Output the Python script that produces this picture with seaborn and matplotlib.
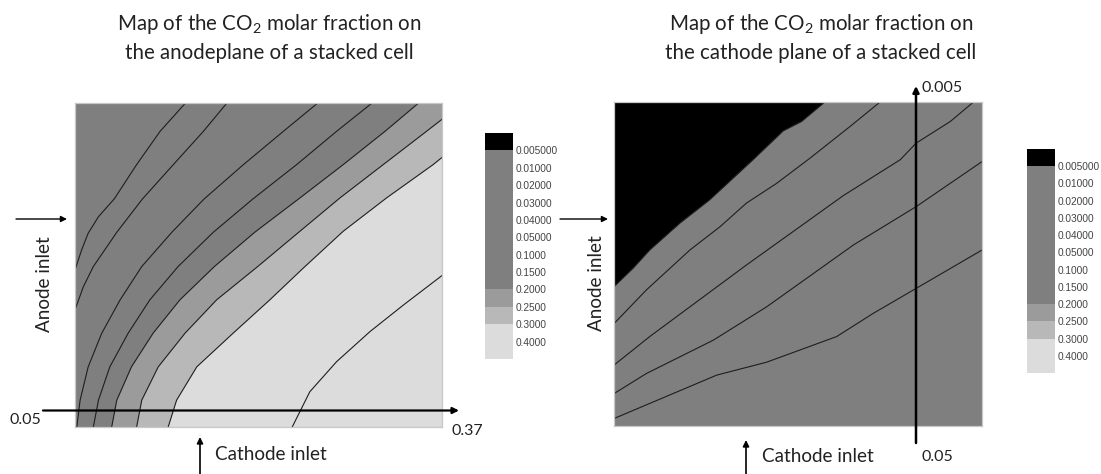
"""
CO2 molar fraction maps on the anode and cathode planes of a stacked cell.
Contour lines are read off the original figure in plane coordinates
(u = 0 left edge -> 1 right edge, v = 0 bottom edge -> 1 top edge).
"""
import numpy as np
import pandas as pd
import seaborn as sns
import matplotlib
matplotlib.use("Agg")
import matplotlib.pyplot as plt
from matplotlib.colors import ListedColormap, BoundaryNorm
from matplotlib.cm import ScalarMappable

# ---------------------------------------------------------------------------
# Colour scale (shared by both maps)
# ---------------------------------------------------------------------------
cbar_bounds = [0.0, 0.005, 0.01, 0.02, 0.03, 0.04, 0.05, 0.1, 0.15, 0.2, 0.25, 0.3, 0.4, 0.5]
cbar_labels = ["0.005000", "0.01000", "0.02000", "0.03000", "0.04000", "0.05000",
               "0.1000", "0.1500", "0.2000", "0.2500", "0.3000", "0.4000"]
band_colors = ["#000000"] + ["#7f7f7f"] * 8 + ["#9b9b9b", "#b8b8b8", "#dcdcdc", "#dcdcdc"]

# ---------------------------------------------------------------------------
# Anode plane contour lines (u, v)
# ---------------------------------------------------------------------------
anode_004 = [(0.300, 1.0), (0.232, 0.914), (0.168, 0.811), (0.107, 0.705), (0.064, 0.650),
             (0.036, 0.599), (0.018, 0.547), (0.0, 0.485)]
anode_005 = [(0.413, 1.0), (0.350, 0.914), (0.268, 0.811), (0.184, 0.705), (0.114, 0.602),
             (0.050, 0.496), (0.023, 0.434), (0.0, 0.362)]
anode_010 = [(0.660, 1.0), (0.568, 0.914), (0.459, 0.811), (0.352, 0.705), (0.264, 0.602),
             (0.182, 0.496), (0.123, 0.393), (0.073, 0.290), (0.036, 0.186), (0.014, 0.083),
             (0.005, 0.0)]
anode_015 = [(0.808, 1.0), (0.713, 0.914), (0.604, 0.811), (0.485, 0.705), (0.377, 0.602),
             (0.281, 0.496), (0.204, 0.393), (0.145, 0.290), (0.095, 0.186), (0.064, 0.083),
             (0.050, 0.0)]
anode_020 = [(0.935, 1.0), (0.845, 0.914), (0.731, 0.811), (0.613, 0.708), (0.490, 0.602),
             (0.380, 0.496), (0.286, 0.393), (0.213, 0.290), (0.154, 0.186), (0.114, 0.083),
             (0.100, 0.0)]
anode_025 = [(1.0, 0.951), (0.958, 0.914), (0.840, 0.811), (0.722, 0.708), (0.613, 0.605),
             (0.498, 0.496), (0.386, 0.393), (0.300, 0.290), (0.227, 0.186), (0.182, 0.083),
             (0.168, 0.0)]
anode_030 = [(1.0, 0.833), (0.976, 0.811), (0.849, 0.708), (0.731, 0.605), (0.622, 0.491),
             (0.531, 0.393), (0.431, 0.290), (0.332, 0.186), (0.277, 0.083), (0.254, 0.0)]
anode_040 = [(1.0, 0.468), (0.895, 0.377), (0.804, 0.295), (0.713, 0.202), (0.640, 0.109),
             (0.592, 0.0)]

# ---------------------------------------------------------------------------
# Cathode plane contour lines (u, v)
# ---------------------------------------------------------------------------
cathode_0005 = [(0.573, 1.0), (0.510, 0.940), (0.460, 0.911), (0.378, 0.822), (0.260, 0.698),
                (0.179, 0.626), (0.097, 0.543), (0.052, 0.487), (0.0, 0.430)]
cathode_001 = [(0.723, 1.0), (0.642, 0.925), (0.533, 0.827), (0.442, 0.749), (0.360, 0.688),
               (0.288, 0.615), (0.206, 0.543), (0.088, 0.420), (0.0, 0.316)]
cathode_002 = [(0.977, 1.0), (0.914, 0.940), (0.821, 0.873), (0.778, 0.822), (0.623, 0.711),
               (0.360, 0.497), (0.097, 0.276), (0.0, 0.188)]
cathode_003 = [(1.0, 0.816), (0.821, 0.677), (0.651, 0.559), (0.415, 0.368), (0.270, 0.265),
               (0.088, 0.162), (0.0, 0.100)]
cathode_004 = [(1.0, 0.543), (0.705, 0.348), (0.605, 0.276), (0.415, 0.197), (0.279, 0.157),
               (0.0, 0.023)]

anode_lines = {0.04: anode_004, 0.05: anode_005, 0.1: anode_010, 0.15: anode_015,
               0.2: anode_020, 0.25: anode_025, 0.3: anode_030, 0.4: anode_040}
cathode_lines = {0.005: cathode_0005, 0.01: cathode_001, 0.02: cathode_002,
                 0.03: cathode_003, 0.04: cathode_004}

# ---------------------------------------------------------------------------
# Style
# ---------------------------------------------------------------------------
sns.set_theme(style="white")
plt.rcParams["font.family"] = ["Lato", "DejaVu Sans"]
plt.rcParams["mathtext.fontset"] = "custom"
plt.rcParams["mathtext.rm"] = "Lato"
plt.rcParams["mathtext.it"] = "Lato:italic"
TXT = "#222222"

CORNERS = [(1.0, 1.0, 1.0), (2.0, 1.0, 0.0), (3.0, 0.0, 0.0)]   # perimeter pos, u, v


def perim(u, v):
    """Clockwise position on the plane border, starting at the top-left corner."""
    if v >= 0.999:
        return u
    if u >= 0.999:
        return 2.0 - v
    if v <= 0.001:
        return 3.0 - u
    return 3.0 + v


def high_side(pts):
    """Polygon of the plane on the high-value (lower-right) side of a contour."""
    pts = list(pts)
    if perim(*pts[0]) > perim(*pts[-1]):
        pts = pts[::-1]
    ta, tb = perim(*pts[0]), perim(*pts[-1])
    for t, u, v in reversed(CORNERS):
        if ta < t < tb:
            pts.append((u, v))
    return np.array(pts)


def band_color(level, side="right"):
    idx = np.searchsorted(cbar_bounds, level, side=side) - 1
    return band_colors[idx]


def draw_map(ax, lines):
    ax.set_facecolor(band_color(min(lines), side="left"))
    for level in sorted(lines):
        poly = high_side(lines[level])
        ax.fill(poly[:, 0], poly[:, 1], color=band_color(level), lw=0)
    for level in sorted(lines):
        df = pd.DataFrame(lines[level], columns=["u", "v"])
        sns.lineplot(data=df, x="u", y="v", sort=False, estimator=None,
                     color="#1e1e1e", lw=0.8, ax=ax)
    ax.set_xlim(0, 1)
    ax.set_ylim(0, 1)
    ax.set_xticks([])
    ax.set_yticks([])
    ax.set_xlabel("")
    ax.set_ylabel("")
    for s in ax.spines.values():
        s.set_color("#c8c8c8")
        s.set_linewidth(0.9)


def draw_cbar(fig, rect):
    cax = fig.add_axes(rect)
    cmap = ListedColormap(band_colors)
    norm = BoundaryNorm(cbar_bounds, cmap.N)
    cb = fig.colorbar(ScalarMappable(norm=norm, cmap=cmap), cax=cax,
                      spacing="uniform", ticks=cbar_bounds[1:-1])
    cb.ax.invert_yaxis()
    cb.ax.minorticks_off()
    cb.set_ticklabels(cbar_labels)
    cb.ax.tick_params(which="both", length=0, pad=2, labelsize=7.3, colors="#444444")
    for lab in cb.ax.get_yticklabels():
        lab.set_family(["Liberation Sans", "DejaVu Sans"])
    cb.outline.set_visible(False)


# ---------------------------------------------------------------------------
# Figure
# ---------------------------------------------------------------------------
fig = plt.figure(figsize=(11.01, 4.74), dpi=100)

ax_an = fig.add_axes([0.0681, 0.0992, 0.3333, 0.6825])
draw_map(ax_an, anode_lines)
ax_ca = fig.add_axes([0.5577, 0.1013, 0.3342, 0.6835])
draw_map(ax_ca, cathode_lines)

draw_cbar(fig, [0.4405, 0.2426, 0.0254, 0.4768])
draw_cbar(fig, [0.9328, 0.2131, 0.0254, 0.4726])

# annotation layer in pixel units
ov = fig.add_axes([0, 0, 1, 1])
ov.set_xlim(0, 1101)
ov.set_ylim(474, 0)
ov.axis("off")

arrow = dict(arrowstyle="-|>", color="black", shrinkA=0, shrinkB=0, mutation_scale=9)
TITLE_FS = 14.8
LABEL_FS = 13.6

ov.text(269, 24, "Map of the CO$_2$ molar fraction on", ha="center", va="center", fontsize=TITLE_FS, color=TXT)
ov.text(269, 53, "the anodeplane of a stacked cell", ha="center", va="center", fontsize=TITLE_FS, color=TXT)
ov.text(821, 24, "Map of the CO$_2$ molar fraction on", ha="center", va="center", fontsize=TITLE_FS, color=TXT)
ov.text(821, 53, "the cathode plane of a stacked cell", ha="center", va="center", fontsize=TITLE_FS, color=TXT)

# anode plane annotations
ov.annotate("", xy=(67, 219), xytext=(16, 219), arrowprops=dict(arrow, lw=1.0))
ov.text(45, 284, "Anode inlet", rotation=90, ha="center", va="center", fontsize=LABEL_FS, color=TXT)
ov.annotate("", xy=(459, 410.5), xytext=(43, 410.5), arrowprops=dict(arrow, lw=1.6))
ov.text(25, 420, "0.05", ha="center", va="center", fontsize=11.5, color=TXT)
ov.text(467, 431, "0.37", ha="center", va="center", fontsize=11.5, color=TXT)
ov.annotate("", xy=(200, 437), xytext=(200, 474), arrowprops=dict(arrow, lw=1.2))
ov.text(215, 455, "Cathode inlet", ha="left", va="center", fontsize=LABEL_FS, color=TXT)

# cathode plane annotations
ov.annotate("", xy=(608, 219), xytext=(560, 219), arrowprops=dict(arrow, lw=1.0))
ov.text(597, 283, "Anode inlet", rotation=90, ha="center", va="center", fontsize=LABEL_FS, color=TXT)
ov.annotate("", xy=(916, 86), xytext=(916, 443), arrowprops=dict(arrow, lw=1.8))
ov.text(922, 88, "0.005", ha="left", va="center", fontsize=11.5, color=TXT)
ov.text(922, 457, "0.05", ha="left", va="center", fontsize=11.5, color=TXT)
ov.annotate("", xy=(746, 440), xytext=(746, 474), arrowprops=dict(arrow, lw=1.2))
ov.text(762, 456, "Cathode inlet", ha="left", va="center", fontsize=LABEL_FS, color=TXT)

fig.savefig("out.png", dpi=100)
plt.close(fig)
